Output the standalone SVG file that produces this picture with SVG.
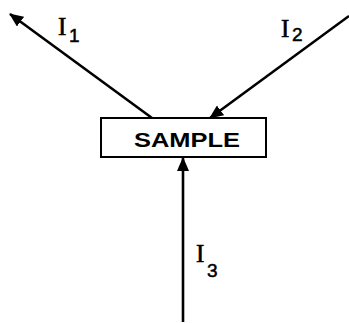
<svg xmlns="http://www.w3.org/2000/svg" width="349" height="323" viewBox="0 0 349 323">
<style>
.ln{stroke:#000;stroke-width:2.6;fill:none}
.lbl{font-family:"Liberation Serif",serif;font-size:25px;fill:#000;stroke:#000;stroke-width:0.6}
.sub{font-family:"Liberation Sans",sans-serif;font-size:19px;fill:#000;stroke:#000;stroke-width:0.5}
.box{fill:#fff;stroke:#000;stroke-width:2}
.bt{font-family:"Liberation Sans",sans-serif;font-size:21px;font-weight:bold;fill:#000}
</style>
<defs>
<marker id="ah" viewBox="0 0 14 12" refX="13" refY="6" markerWidth="14" markerHeight="12" markerUnits="userSpaceOnUse" orient="auto">
<path d="M0,0 L14,6 L0,12 Z" fill="#000"/>
</marker>
</defs>
<g id="connectors">
<line class="ln" x1="152" y1="118" x2="10" y2="14" marker-end="url(#ah)"/>
<line class="ln" x1="349" y1="16" x2="210" y2="118" marker-end="url(#ah)"/>
<line class="ln" x1="183" y1="322" x2="183" y2="158" marker-end="url(#ah)"/>
</g>
<g id="sample">
<rect class="box" x="101" y="118" width="165" height="39"/>
<text class="bt" x="134" y="147" textLength="106" lengthAdjust="spacingAndGlyphs">SAMPLE</text>
</g>
<g id="label-i1">
<text class="lbl" x="58" y="35">I</text><text class="sub" x="69" y="42">1</text>
</g>
<g id="label-i2">
<text class="lbl" x="281" y="37">I</text><text class="sub" x="292" y="41">2</text>
</g>
<g id="label-i3">
<text class="lbl" x="196" y="262">I</text><text class="sub" x="207" y="277">3</text>
</g>
</svg>
